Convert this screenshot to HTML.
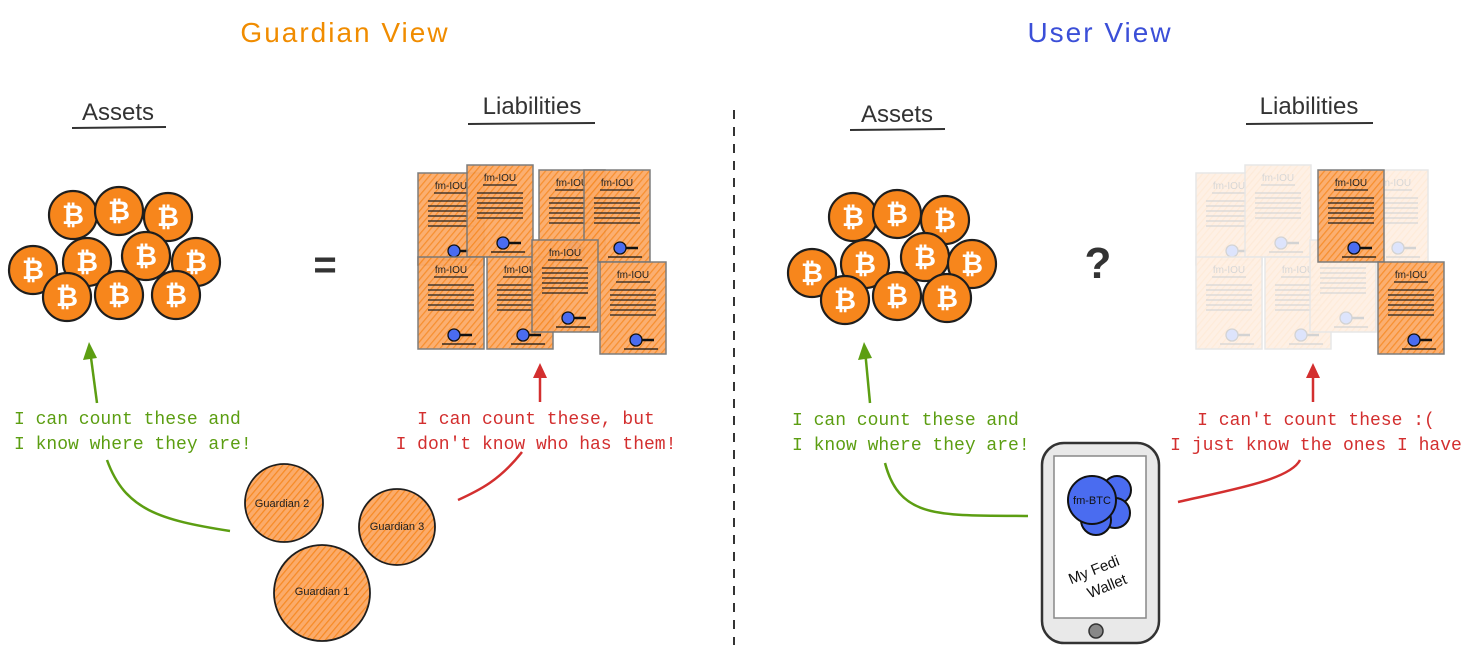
<!DOCTYPE html>
<html><head><meta charset="utf-8"><style>
html,body{margin:0;padding:0;background:#fff;}
svg{display:block;font-family:"Liberation Sans",sans-serif;}
</style></head><body>
<svg width="1466" height="653" viewBox="0 0 1466 653" xmlns="http://www.w3.org/2000/svg">
<defs>
<pattern id="h" width="5" height="5" patternUnits="userSpaceOnUse" patternTransform="rotate(40)">
<rect width="5" height="5" fill="#fbab6a"/><line x1="0" y1="0" x2="0" y2="5" stroke="#f78a24" stroke-width="2.5"/>
</pattern>
<g id="coin"><circle r="24" fill="#f7861c" stroke="#1e1e1e" stroke-width="2.2"/><text y="9" text-anchor="middle" font-size="27" font-weight="bold" fill="#fff">₿</text></g>
<g id="doc">
<rect width="66" height="92" fill="url(#h)" stroke="#777" stroke-width="1.5" opacity="0.95"/>
<text x="33" y="16" text-anchor="middle" font-size="10" fill="#222">fm-IOU</text>
<line x1="16" y1="20" x2="50" y2="20" stroke="#222" stroke-width="1.3"/>
<g stroke="#222" stroke-width="1.3"><line x1="10" y1="28" x2="56" y2="28"/><line x1="10" y1="33" x2="56" y2="33"/><line x1="10" y1="38" x2="56" y2="38"/><line x1="10" y1="43" x2="56" y2="43"/><line x1="10" y1="48" x2="56" y2="48"/><line x1="10" y1="53" x2="56" y2="53"/></g>
<circle cx="36" cy="78" r="6" fill="#4a6cf0" stroke="#111" stroke-width="1.3"/><line x1="42" y1="78" x2="54" y2="78" stroke="#111" stroke-width="2.5"/>
<line x1="24" y1="87" x2="58" y2="87" stroke="#111" stroke-width="1.3"/>
</g>
</defs>

<text x="345" y="42" text-anchor="middle" font-size="28" fill="#f08c00" style="letter-spacing:2px">Guardian View</text>
<text x="1100" y="42" text-anchor="middle" font-size="28" fill="#3b4fd8" style="letter-spacing:2px">User View</text>

<g font-size="24" fill="#333" text-anchor="middle">
<text x="118" y="120">Assets</text><line x1="72" y1="128" x2="166" y2="127" stroke="#333" stroke-width="2"/>
<text x="532" y="114">Liabilities</text><line x1="468" y1="124" x2="595" y2="123" stroke="#333" stroke-width="2"/>
<text x="897" y="122">Assets</text><line x1="850" y1="130" x2="945" y2="129" stroke="#333" stroke-width="2"/>
<text x="1309" y="114">Liabilities</text><line x1="1246" y1="124" x2="1373" y2="123" stroke="#333" stroke-width="2"/>
</g>

<line x1="734" y1="110" x2="734" y2="645" stroke="#333" stroke-width="2" stroke-dasharray="9,8"/>

<use href="#coin" x="73" y="215"/><use href="#coin" x="119" y="211"/><use href="#coin" x="168" y="217"/>
<use href="#coin" x="33" y="270"/><use href="#coin" x="87" y="262"/><use href="#coin" x="146" y="256"/><use href="#coin" x="196" y="262"/>
<use href="#coin" x="67" y="297"/><use href="#coin" x="119" y="295"/><use href="#coin" x="176" y="295"/>
<use href="#coin" x="853" y="217"/><use href="#coin" x="897" y="214"/><use href="#coin" x="945" y="220"/>
<use href="#coin" x="812" y="273"/><use href="#coin" x="865" y="264"/><use href="#coin" x="925" y="257"/><use href="#coin" x="972" y="264"/>
<use href="#coin" x="845" y="300"/><use href="#coin" x="897" y="296"/><use href="#coin" x="947" y="298"/>

<text x="325" y="278" font-size="40" font-weight="bold" fill="#333" text-anchor="middle">=</text>
<text x="1098" y="278" font-size="44" font-weight="bold" fill="#333" text-anchor="middle">?</text>

<use href="#doc" x="418" y="173"/><use href="#doc" x="467" y="165"/><use href="#doc" x="539" y="170"/><use href="#doc" x="584" y="170"/>
<use href="#doc" x="418" y="257"/><use href="#doc" x="487" y="257"/><use href="#doc" x="532" y="240"/><use href="#doc" x="600" y="262"/>
<g opacity="0.18">
<use href="#doc" x="1196" y="173"/><use href="#doc" x="1245" y="165"/><use href="#doc" x="1362" y="170"/>
<use href="#doc" x="1196" y="257"/><use href="#doc" x="1265" y="257"/><use href="#doc" x="1310" y="240"/>
</g>
<use href="#doc" x="1318" y="170"/><use href="#doc" x="1378" y="262"/>

<g stroke="#1e1e1e" stroke-width="1.8" fill="url(#h)">
<circle cx="284" cy="503" r="39"/><circle cx="397" cy="527" r="38"/><circle cx="322" cy="593" r="48"/>
</g>
<g font-size="11" fill="#1e1e1e" text-anchor="middle">
<text x="282" y="507">Guardian 2</text><text x="397" y="530">Guardian 3</text><text x="322" y="595">Guardian 1</text>
</g>

<g fill="#5c9e12" font-size="18" font-family="Liberation Mono,monospace">
<text x="14" y="424">I can count these and</text><text x="14" y="449">I know where they are!</text>
<text x="792" y="425">I can count these and</text><text x="792" y="450">I know where they are!</text>
</g>
<g fill="none" stroke="#5c9e12" stroke-width="2.5">
<path d="M97 403 L90 350"/><path d="M107 460 C125 510 160 520 230 531"/>
<path d="M870 403 L865 350"/><path d="M885 463 C900 520 940 515 1028 516"/>
</g>
<polygon points="89,342 83,360 97,358" fill="#5c9e12"/>
<polygon points="864,342 858,360 872,358" fill="#5c9e12"/>

<g fill="#d32f2f" font-size="18" font-family="Liberation Mono,monospace" text-anchor="middle">
<text x="536" y="424">I can count these, but</text><text x="536" y="449">I don't know who has them!</text>
<text x="1316" y="425">I can't count these :(</text><text x="1316" y="450">I just know the ones I have</text>
</g>
<g fill="none" stroke="#d32f2f" stroke-width="2.5">
<path d="M540 402 L540 372"/><path d="M522 452 C500 480 480 490 458 500"/>
<path d="M1313 402 L1313 372"/><path d="M1300 460 C1290 480 1230 490 1178 502"/>
</g>
<polygon points="540,363 533,378 547,378" fill="#d32f2f"/>
<polygon points="1313,363 1306,378 1320,378" fill="#d32f2f"/>

<rect x="1042" y="443" width="117" height="200" rx="22" fill="#e9e9e9" stroke="#333" stroke-width="2.5"/>
<rect x="1054" y="456" width="92" height="162" fill="#fff" stroke="#888" stroke-width="1.5"/>
<circle cx="1096" cy="631" r="7" fill="#888" stroke="#333" stroke-width="1.5"/>
<g fill="#4a6cf0" stroke="#111" stroke-width="2">
<circle cx="1117" cy="490" r="14"/><circle cx="1115" cy="513" r="15"/><circle cx="1096" cy="520" r="15"/><circle cx="1092" cy="500" r="24"/>
</g>
<text x="1092" y="504" text-anchor="middle" font-size="11" fill="#111">fm-BTC</text>
<g transform="rotate(-22 1098 580)" font-size="15" fill="#111" text-anchor="middle">
<text x="1098" y="574">My Fedi</text><text x="1104" y="594">Wallet</text>
</g>
</svg>
</body></html>
